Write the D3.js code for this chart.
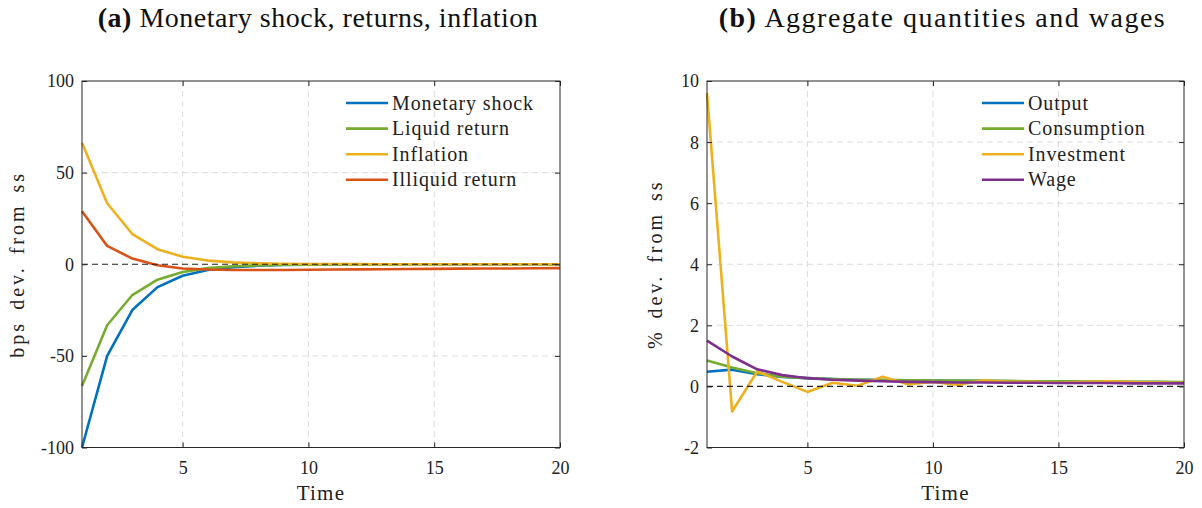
<!DOCTYPE html>
<html>
<head>
<meta charset="utf-8">
<script src="https://cdn.jsdelivr.net/npm/d3@7"></script>
<style>
  html, body { margin: 0; padding: 0; background: #fff; }
  svg { display: block; }
</style>
</head>
<body>
<svg id="chart" width="1202" height="508"></svg>
<script>
// Horizon (quarters)
const periods = d3.range(1, 21);

// Panel (a): basis points deviation from steady state
const monetaryShock = [-100, -50, -25, -12.5, -6.3, -3.1, -1.6, -0.8, -0.4, -0.2, -0.1, -0.05, 0, 0, 0, 0, 0, 0, 0, 0];
const liquidReturn  = [-66.5, -33.3, -16.8, -8.4, -4.2, -2.1, -1.1, -0.6, -0.3, -0.2, -0.1, -0.1, -0.05, 0, 0, 0, 0, 0, 0, 0];
const inflation     = [66.3, 33.3, 16.5, 8.2, 4.1, 2.0, 1.0, 0.5, 0.3, 0.15, 0.1, 0.05, 0, 0, 0, 0, 0, 0, 0, 0];
const illiquidReturn = [28.9, 10.0, 3.1, -0.5, -2.3, -2.9, -3.1, -3.1, -3.1, -3.0, -2.9, -2.8, -2.7, -2.6, -2.5, -2.4, -2.3, -2.3, -2.2, -2.1];

// Panel (b): percent deviation from steady state
const output      = [0.48, 0.55, 0.40, 0.31, 0.27, 0.24, 0.22, 0.21, 0.20, 0.19, 0.18, 0.18, 0.17, 0.16, 0.16, 0.15, 0.15, 0.14, 0.14, 0.13];
const consumption = [0.85, 0.62, 0.43, 0.32, 0.27, 0.24, 0.22, 0.21, 0.20, 0.19, 0.19, 0.18, 0.18, 0.17, 0.17, 0.16, 0.16, 0.15, 0.15, 0.14];
const investment  = [9.6, -0.82, 0.49, 0.15, -0.18, 0.12, 0.02, 0.32, 0.07, 0.15, 0.05, 0.2, 0.15, 0.15, 0.12, 0.15, 0.17, 0.14, 0.13, 0.11];
const wage        = [1.50, 0.98, 0.56, 0.37, 0.27, 0.22, 0.19, 0.17, 0.15, 0.14, 0.13, 0.13, 0.12, 0.12, 0.11, 0.11, 0.11, 0.10, 0.10, 0.10];

const xTicks = [5, 10, 15, 20];
const yTicksA = [-100, -50, 0, 50, 100];
const yTicksB = [-2, 0, 2, 4, 6, 8, 10];

const colors = {
  blue: "#0072BD", green: "#77AC30", yellow: "#EDB120", red: "#D95319", purple: "#7E2F8E"
};

const panels = [
  {
    label: "(a)", title: " Monetary shock, returns, inflation", titleSpacing: 0.5,
    left: 82, right: 560, yDomain: [-100, 100], yTicks: yTicksA,
    yLabel: "bps dev. from ss", yLabelX: 24, legendX: 346,
    series: [
      { name: "Monetary shock", values: monetaryShock, color: colors.blue },
      { name: "Liquid return", values: liquidReturn, color: colors.green },
      { name: "Inflation", values: inflation, color: colors.yellow },
      { name: "Illiquid return", values: illiquidReturn, color: colors.red }
    ]
  },
  {
    label: "(b)", title: " Aggregate quantities and wages", titleSpacing: 1.5,
    left: 707, right: 1184, yDomain: [-2, 10], yTicks: yTicksB,
    yLabel: "% dev. from ss", yLabelX: 662, legendX: 982,
    series: [
      { name: "Output", values: output, color: colors.blue },
      { name: "Consumption", values: consumption, color: colors.green },
      { name: "Investment", values: investment, color: colors.yellow },
      { name: "Wage", values: wage, color: colors.purple }
    ]
  }
];

const plotTop = 81, plotBottom = 447.5;
const svg = d3.select("#chart");
const serif = '"Liberation Serif", "DejaVu Serif", serif';
const fmt = d => String(d); // plain hyphen for negatives

panels.forEach(p => {
  const x = d3.scaleLinear().domain([1, 20]).range([p.left, p.right]);
  const y = d3.scaleLinear().domain(p.yDomain).range([plotBottom, plotTop]);
  const g = svg.append("g");

  // grid
  g.append("g").selectAll("line").data(xTicks.filter(t => t < 20)).join("line")
    .attr("x1", d => x(d)).attr("x2", d => x(d)).attr("y1", plotTop).attr("y2", plotBottom)
    .attr("stroke", "#dcdcdc").attr("stroke-width", 1).attr("stroke-dasharray", "6,4");
  g.append("g").selectAll("line").data(p.yTicks.filter(t => t !== 0 && t !== p.yDomain[0] && t !== p.yDomain[1])).join("line")
    .attr("x1", p.left).attr("x2", p.right).attr("y1", d => y(d)).attr("y2", d => y(d))
    .attr("stroke", "#dcdcdc").attr("stroke-width", 1).attr("stroke-dasharray", "6,4");

  // series
  const line = d3.line().x((d, i) => x(periods[i])).y(d => y(d));
  p.series.forEach(s => {
    g.append("path").datum(s.values)
      .attr("d", line).attr("fill", "none")
      .attr("stroke", s.color).attr("stroke-width", 2.6).attr("stroke-linejoin", "round");
  });

  // zero reference
  g.append("line").attr("x1", p.left).attr("x2", p.right).attr("y1", y(0)).attr("y2", y(0))
    .attr("stroke", "#222").attr("stroke-width", 1.1).attr("stroke-dasharray", "6,4");

  // axes (with mirrored ticks on the top and right edges)
  const gx = g.append("g").attr("transform", `translate(0,${plotBottom})`)
    .call(d3.axisBottom(x).tickValues(xTicks).tickSize(-5).tickPadding(9).tickFormat(fmt));
  const gy = g.append("g").attr("transform", `translate(${p.left},0)`)
    .call(d3.axisLeft(y).tickValues(p.yTicks).tickSize(-5).tickPadding(8).tickFormat(fmt));
  const gxt = g.append("g").attr("transform", `translate(0,${plotTop})`)
    .call(d3.axisTop(x).tickValues(xTicks).tickSize(-5).tickFormat(""));
  const gyr = g.append("g").attr("transform", `translate(${p.right},0)`)
    .call(d3.axisRight(y).tickValues(p.yTicks).tickSize(-5).tickFormat(""));
  [gx, gy, gxt, gyr].forEach(a => {
    a.select(".domain").remove();
    a.selectAll(".tick line").attr("stroke", "#262626");
    a.selectAll(".tick text").attr("font-size", 18).attr("fill", "#222")
      .attr("font-family", serif);
  });
  gx.selectAll(".tick text").attr("dy", "0.95em");
  gy.selectAll(".tick text").attr("dy", "0.33em");

  // box
  g.append("rect").attr("x", p.left).attr("y", plotTop)
    .attr("width", p.right - p.left).attr("height", plotBottom - plotTop)
    .attr("fill", "none").attr("stroke", "#262626").attr("stroke-width", 1);

  // axis labels
  g.append("text").attr("x", (p.left + p.right) / 2).attr("y", 500)
    .attr("text-anchor", "middle").attr("font-family", serif).attr("font-size", 21)
    .attr("letter-spacing", 1.2).attr("fill", "#222").text("Time");
  g.append("text").attr("transform", `translate(${p.yLabelX},${(plotTop + plotBottom) / 2}) rotate(-90)`)
    .attr("text-anchor", "middle").attr("font-family", serif).attr("font-size", 20)
    .attr("letter-spacing", 3).attr("word-spacing", 3).attr("fill", "#222").text(p.yLabel);

  // title
  const t = g.append("text").attr("x", (p.left + p.right) / 2 - 3).attr("y", 27)
    .attr("text-anchor", "middle").attr("font-family", serif).attr("font-size", 28)
    .attr("letter-spacing", p.titleSpacing).attr("fill", "#111");
  t.append("tspan").attr("font-weight", "bold").text(p.label);
  t.append("tspan").text(p.title);

  // legend
  const lg = g.append("g").attr("transform", `translate(${p.legendX},103)`);
  p.series.forEach((s, i) => {
    const row = lg.append("g").attr("transform", `translate(0,${i * 25.6})`);
    row.append("line").attr("x1", 0).attr("x2", 42).attr("y1", 0).attr("y2", 0)
      .attr("stroke", s.color).attr("stroke-width", 2.6);
    row.append("text").attr("x", 46).attr("y", 0).attr("dy", "0.33em")
      .attr("font-family", serif).attr("font-size", 20).attr("letter-spacing", 0.9)
      .attr("fill", "#222").text(s.name);
  });
});
</script>
</body>
</html>
